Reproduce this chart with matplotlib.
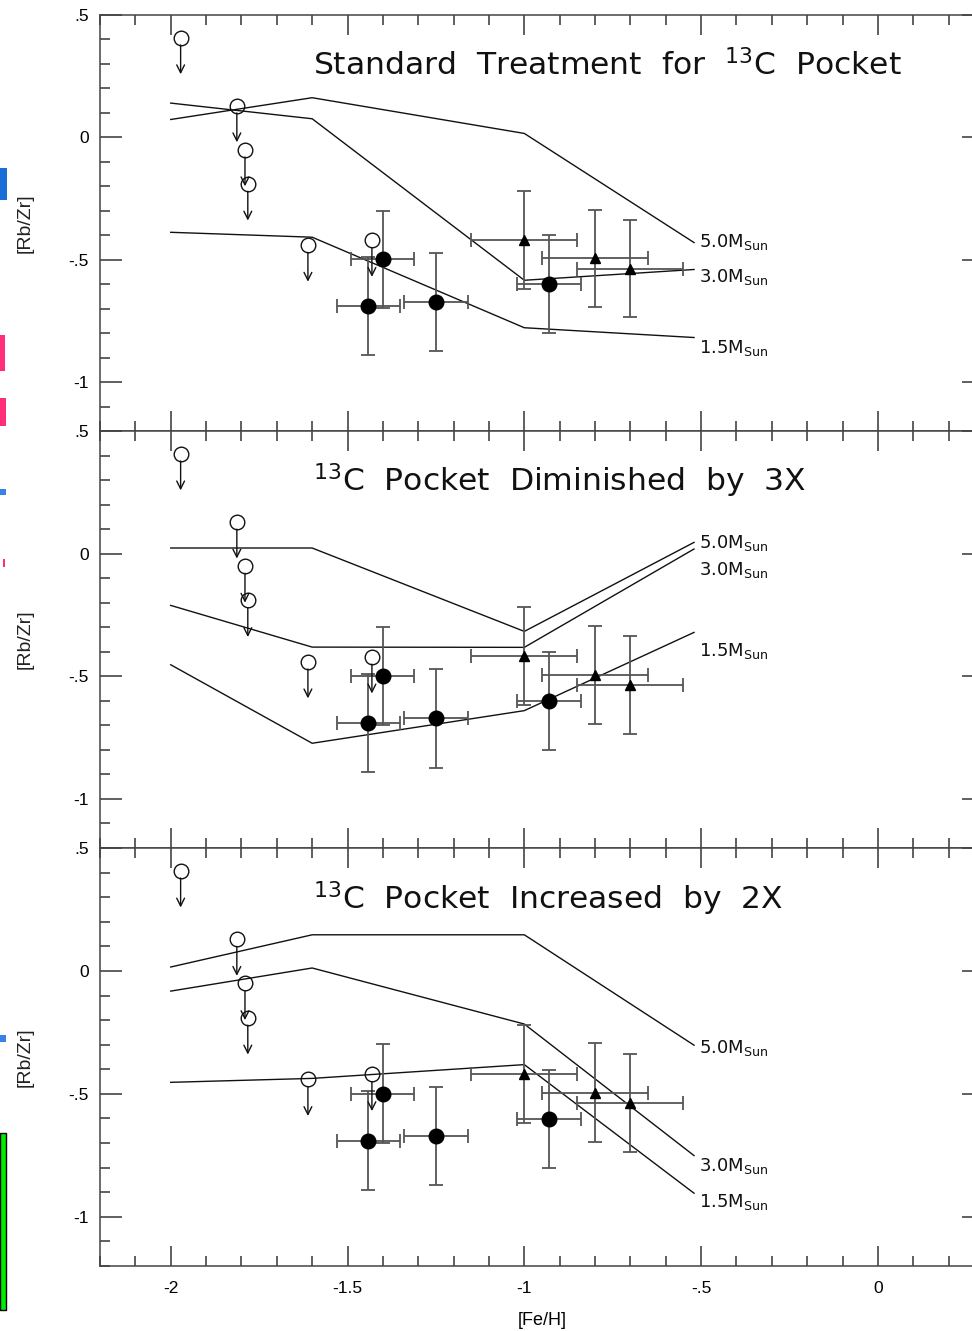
import matplotlib
matplotlib.use("Agg")
import matplotlib.pyplot as plt
from matplotlib.patches import Rectangle
from matplotlib.ticker import MultipleLocator, FuncFormatter

# ---- observations -------------------------------------------------------
# upper limits (open circles with downward arrows)
fe_limit = [-1.972, -1.813, -1.790, -1.782, -1.612, -1.431]
rbzr_limit = [0.408, 0.130, -0.050, -0.190, -0.440, -0.420]

# detections, filled circles
fe_circ = [-1.401, -1.441, -1.250, -0.931]
rbzr_circ = [-0.499, -0.690, -0.672, -0.601]
fe_circ_err = [0.09, 0.09, 0.09, 0.09]
rbzr_circ_err = [0.20, 0.20, 0.20, 0.20]

# detections, filled triangles
fe_tri = [-1.000, -0.800, -0.700]
rbzr_tri = [-0.418, -0.495, -0.536]
fe_tri_err = [0.15, 0.15, 0.15]
rbzr_tri_err = [0.20, 0.20, 0.20]

# ---- AGB model tracks ----------------------------------------------------
fe_model = [-2.0, -1.6, -1.0, -0.52]
masses = ["5.0", "3.0", "1.5"]

std_5 = [0.073, 0.162, 0.016, -0.430]
std_3 = [0.140, 0.076, -0.584, -0.540]
std_15 = [-0.388, -0.408, -0.778, -0.818]

dim_5 = [0.023, 0.023, -0.317, 0.046]
dim_3 = [-0.211, -0.381, -0.382, 0.019]
dim_15 = [-0.453, -0.773, -0.640, -0.321]

inc_5 = [0.016, 0.147, 0.147, -0.302]
inc_3 = [-0.082, 0.012, -0.216, -0.751]
inc_15 = [-0.453, -0.437, -0.381, -0.904]

titles = [r"Standard  Treatment  for  $^{13}$C  Pocket",
          r"$^{13}$C  Pocket  Diminished  by  3X",
          r"$^{13}$C  Pocket  Increased  by  2X"]

x_ticks = [-2, -1.5, -1, -0.5, 0]
x_tick_labels = ["-2", "-1.5", "-1", "-.5", "0"]
y_tick_labels = {0.5: ".5", 0.0: "0", -0.5: "-.5", -1.0: "-1"}

panels = [
    dict(tracks=[std_5, std_3, std_15], label_y=[-0.448, -0.590, -0.883]),
    dict(tracks=[dim_5, dim_3, dim_15], label_y=[0.023, -0.086, -0.419]),
    dict(tracks=[inc_5, inc_3, inc_15], label_y=[-0.333, -0.812, -0.962]),
]

# ---- figure ---------------------------------------------------------------
W, H = 972, 1331
fig = plt.figure(figsize=(W / 100, H / 100), dpi=100)
fig.patch.set_facecolor("white")

tick_font = "Liberation Sans"
ink = "#111111"
bar_col = "#555555"
axis_col = "#444444"

left_px, right_px = 100, 984
panel_edges = [(15, 431), (431, 848), (848, 1266)]


def ytick_fmt(v, pos):
    return y_tick_labels.get(round(v, 2), "")


axes = []
for i, (top_px, bot_px) in enumerate(panel_edges):
    ax = fig.add_axes([left_px / W, 1 - bot_px / H,
                       (right_px - left_px) / W, (bot_px - top_px) / H])
    axes.append(ax)
    ax.set_xlim(-2.2, 0.3)
    ax.set_ylim(-1.2, 0.5)
    for s in ax.spines.values():
        s.set_color(axis_col)
        s.set_linewidth(1.1)

    ax.xaxis.set_major_locator(MultipleLocator(0.5))
    ax.xaxis.set_minor_locator(MultipleLocator(0.1))
    ax.yaxis.set_major_locator(MultipleLocator(0.5))
    ax.yaxis.set_minor_locator(MultipleLocator(0.1))
    ax.tick_params(which="both", direction="in", top=True, right=True,
                   color=axis_col, width=1.2)
    ax.tick_params(which="minor", length=7)
    ax.tick_params(axis="y", which="major", length=16, pad=8,
                   labelsize=12.5)
    ax.tick_params(axis="x", which="major", length=14.5)
    ax.yaxis.set_major_formatter(FuncFormatter(ytick_fmt))
    for lab in ax.get_yticklabels():
        lab.set_fontfamily(tick_font)

    if i < 2:
        ax.tick_params(axis="x", labelbottom=False)
    else:
        ax.set_xticks(x_ticks)
        ax.set_xticklabels(x_tick_labels, fontfamily=tick_font, fontsize=12.5)
        ax.tick_params(axis="x", pad=11)
        ax.set_xlabel("[Fe/H]", fontfamily=tick_font, fontsize=13,
                      labelpad=11)

    # model tracks
    p = panels[i]
    for m, track, ly in zip(masses, p["tracks"], p["label_y"]):
        ax.plot(fe_model, track, color=ink, lw=1.0, zorder=2)
        ax.text(-0.505, ly, m + r"M$_{\rm Sun}$", fontsize=13,
                ha="left", va="baseline", color=ink)

    # error bars
    ax.errorbar(fe_circ, rbzr_circ, xerr=fe_circ_err, yerr=rbzr_circ_err,
                fmt="none", ecolor=bar_col, elinewidth=1.3, capsize=5,
                capthick=1.3, zorder=3)
    ax.errorbar(fe_tri, rbzr_tri, xerr=fe_tri_err, yerr=rbzr_tri_err,
                fmt="none", ecolor=bar_col, elinewidth=1.3, capsize=5,
                capthick=1.3, zorder=3)
    ax.plot(fe_circ, rbzr_circ, "o", color="black", ms=10.5, zorder=5)
    ax.plot(fe_tri, rbzr_tri, "^", color="black", ms=7.5, zorder=5)

    # upper limits
    ax.plot(fe_limit, rbzr_limit, "o", mfc="none", mec=ink, mew=1.0,
            ms=10.5, zorder=4)
    for fx, fy in zip(fe_limit, rbzr_limit):
        ax.annotate("", xy=(fx, fy - 0.15), xytext=(fx, fy - 0.03),
                    arrowprops=dict(arrowstyle="->", color=ink, lw=1.0,
                                    shrinkA=0, shrinkB=0,
                                    mutation_scale=14),
                    zorder=4)

    ax.text(0.241, 0.854, titles[i], transform=ax.transAxes,
            fontsize=22.6, ha="left", va="baseline", color=ink)

    fig.text(25 / W, 1 - (top_px + bot_px) / 2 / H, "[Rb/Zr]",
             rotation=90, ha="center", va="center", fontsize=14,
             fontfamily=tick_font, color="#222222")

# slide fragments along the left edge
frags = [
    (0, 168, 7, 32, "#1a6fd6", None),
    (0, 335, 5, 36, "#ff2d7a", None),
    (0, 398, 6, 28, "#ff2d7a", None),
    (0, 489, 6, 6, "#3b7fe8", None),
    (3, 559, 2, 8, "#ff2d7a", None),
    (0, 1035, 6, 7, "#3b7fe8", None),
    (0, 1133, 6, 177, "#00ee00", "black"),
]
for x0, y0, w, h, fc, ec in frags:
    fig.patches.append(Rectangle((x0 / W, 1 - (y0 + h) / H), w / W, h / H,
                                 transform=fig.transFigure, facecolor=fc,
                                 edgecolor=ec if ec else fc,
                                 linewidth=1.0 if ec else 0))

fig.savefig("out.png", dpi=100)
